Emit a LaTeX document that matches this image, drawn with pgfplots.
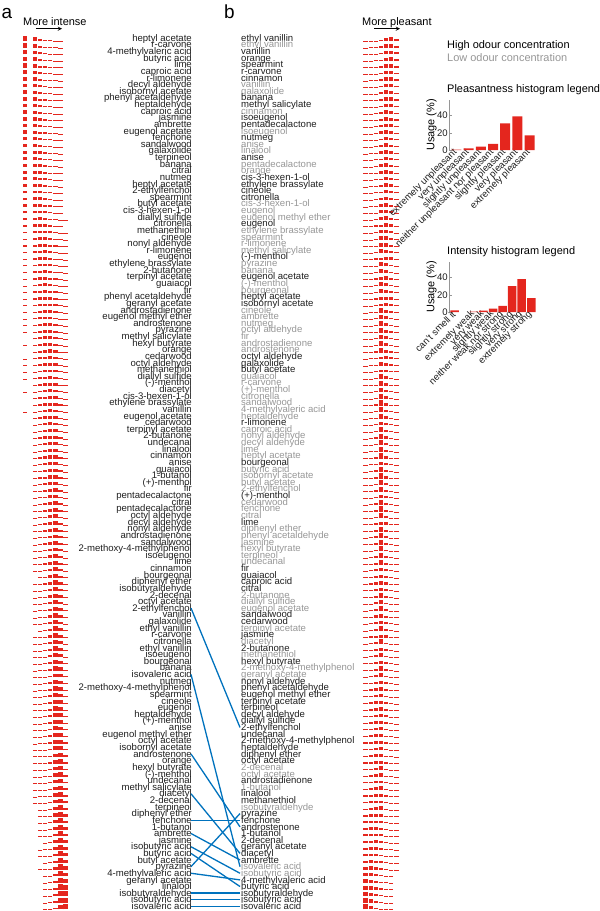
\documentclass[border=0pt]{standalone}
\usepackage{pgfplots}
\pgfplotsset{compat=1.18}
\usepackage{pgfplotstable}
\usepackage{fontspec}
\setmainfont{Liberation Sans}
\definecolor{barred}{RGB}{228,38,30}
\definecolor{lowc}{RGB}{150,150,150}
\definecolor{hic}{RGB}{30,30,30}
\definecolor{linkblue}{RGB}{0,114,189}
\newcommand\lo[1]{\textcolor{lowc}{#1}}
\newcommand\labfont{\fontsize{9.6}{9.6}\selectfont}

% intensity usage (%): can't smell it, extremely weak ... extremely strong
\pgfplotstableread{
c0 c1 c2 c3 c4 c5 c6 c7
40 30 14 8 5 2 1 0
38 30 16 8 5 2 1 0
36 28 15 10 6 3 2 0
36 30 16 9 5 3 1 0
35 30 17 9 5 3 1 0
35 29 16 10 6 3 1 0
34 30 17 10 5 3 1 0
33 28 17 11 6 3 2 0
32 29 18 11 6 3 1 0
31 28 18 11 7 3 2 0
31 27 18 12 7 3 2 0
30 28 19 12 7 3 1 0
30 27 19 12 7 4 1 0
29 27 19 12 8 4 1 0
29 26 19 13 8 4 1 0
28 26 20 13 8 4 1 0
27 27 20 13 8 4 1 0
27 25 20 14 9 4 1 0
26 25 21 14 9 4 1 0
25 25 21 14 9 5 1 0
24 24 22 15 9 5 1 0
24 23 22 15 10 5 1 0
23 24 21 16 10 5 1 0
22 23 22 16 10 5 2 0
21 22 22 17 11 5 2 0
20 22 22 17 11 6 2 0
19 21 22 18 12 6 2 0
18 20 22 18 12 7 2 1
17 20 22 19 13 7 2 0
12 18 20 18 15 10 5 2
10 16 22 21 16 10 4 1
10 15 22 22 16 10 4 1
8 14 22 24 17 10 4 1
7 15 22 24 17 10 4 1
9 14 20 22 18 12 4 1
8 13 20 22 19 12 5 1
6 14 21 24 18 12 4 1
5 13 21 24 19 12 5 1
5 12 20 24 20 13 5 1
8 10 18 20 20 15 7 2
6 10 18 22 22 15 6 1
7 10 18 22 21 15 6 1
5 10 17 23 22 16 6 1
6 9 16 22 22 17 7 1
4 8 16 22 24 18 7 1
0 8 16 24 25 19 7 1
5 8 15 22 24 18 7 1
0 8 16 23 26 19 7 1
4 7 15 22 25 19 7 1
3 7 15 22 25 20 7 1
5 7 12 18 22 20 12 4
4 6 14 20 24 21 9 2
0 6 14 21 26 22 9 2
4 6 13 20 25 22 9 1
0 5 13 20 27 23 10 2
0 6 13 20 26 23 10 2
4 5 12 20 26 23 9 1
0 5 12 20 27 24 10 2
0 5 12 19 27 25 10 2
0 5 11 19 27 25 11 2
0 5 11 19 26 25 12 2
0 4 11 19 27 26 11 2
0 4 10 18 28 27 11 2
0 4 10 18 27 28 11 2
0 4 10 17 26 29 12 2
0 4 9 17 27 28 13 2
0 3 10 16 27 29 13 2
0 3 9 17 26 30 13 2
0 3 9 16 27 30 13 2
0 3 9 16 26 31 13 2
0 3 8 15 26 31 15 2
0 3 8 15 26 32 14 2
0 3 8 15 25 32 15 2
0 3 7 15 25 33 15 2
0 3 7 14 25 33 16 2
0 4 7 12 21 28 20 8
0 2 7 14 24 34 16 3
0 2 7 14 24 33 17 3
0 2 6 13 24 34 18 3
0 2 6 13 23 35 18 3
0 2 6 12 23 35 19 3
0 0 5 12 23 36 20 4
0 2 5 11 22 36 20 4
0 2 5 10 20 35 22 6
0 2 5 11 21 36 21 4
0 1 5 10 21 36 22 5
0 3 5 9 18 33 24 8
0 1 4 10 20 37 23 5
0 1 4 9 20 37 24 5
0 0 3 8 19 38 26 6
0 1 4 9 19 37 24 6
0 1 4 8 19 37 25 6
0 1 3 8 19 37 26 6
0 1 3 8 18 37 27 6
0 1 3 8 18 37 27 6
0 1 3 7 18 37 28 6
0 3 4 7 15 30 28 13
0 1 3 7 17 37 29 6
0 1 3 7 16 37 29 7
0 1 2 7 16 37 30 7
0 1 2 6 16 37 31 7
0 1 2 6 15 37 31 8
0 1 2 6 15 36 32 8
0 1 2 6 15 36 32 8
0 1 2 5 14 36 33 9
0 1 2 5 14 35 34 9
0 1 2 5 13 35 34 10
0 1 2 5 13 34 35 10
0 4 4 6 12 24 30 20
0 1 2 4 11 32 36 14
0 1 2 4 11 31 37 14
0 1 2 4 11 31 37 14
0 1 2 4 10 30 38 15
0 1 2 4 10 30 38 15
0 1 2 4 9 29 39 16
0 1 2 4 9 28 40 16
0 0 1 3 8 28 41 19
0 0 1 3 8 27 42 19
0 0 1 3 7 26 43 20
0 0 1 2 7 25 43 22
0 0 1 3 7 24 43 22
0 0 0 2 6 24 44 24
0 0 1 2 6 23 44 24
0 0 1 2 5 22 45 25
0 0 0 2 5 21 45 27
0 0 1 2 5 20 45 27
0 0 0 1 4 19 45 31
0 0 0 1 4 18 45 32
0 0 0 1 4 16 44 35
0 0 0 1 3 14 42 40
0 0 0 1 3 12 40 44
0 0 0 1 2 10 38 49
}\intensity

% pleasantness usage (%): extremely unpleasant ... extremely pleasant
\pgfplotstableread{
p1 p2 p3 p4 p5 p6 p7
1 2 4 9 28 36 20
1 2 4 12 32 33 16
1 2 5 11 30 34 17
1 2 5 12 31 33 16
2 3 6 11 30 32 16
1 3 6 12 31 32 15
2 3 6 12 31 31 15
1 2 4 17 34 29 13
1 2 5 18 34 28 12
3 4 7 11 30 30 15
3 4 7 12 30 29 15
1 2 5 20 35 26 11
2 4 8 14 32 28 12
2 3 7 17 33 27 11
1 2 5 22 35 25 10
2 4 8 15 32 27 12
1 2 6 24 34 24 9
1 2 6 25 34 23 9
3 4 9 15 31 26 12
1 2 6 27 34 22 8
1 2 6 27 35 21 8
3 5 10 15 31 25 11
2 4 9 18 32 24 11
3 5 10 16 30 25 11
3 5 10 17 31 24 10
1 3 7 30 33 19 7
1 3 7 30 33 19 7
1 3 7 31 33 18 7
4 5 11 16 30 24 10
1 3 7 33 32 18 6
1 2 7 36 32 17 5
1 3 7 35 32 17 5
1 3 8 34 31 17 6
4 6 12 18 29 22 9
1 3 8 38 31 15 4
1 3 8 40 30 14 4
3 5 11 22 30 20 9
1 3 8 40 30 14 4
1 3 8 40 30 14 4
4 6 13 20 28 20 9
4 6 13 21 28 20 8
1 3 9 42 29 13 3
1 3 9 43 28 13 3
1 3 9 43 29 12 3
2 4 10 42 27 12 3
1 3 10 44 28 11 3
2 4 10 43 27 11 3
2 4 10 44 27 10 3
4 7 14 24 27 17 7
2 5 12 38 26 13 4
6 8 14 20 25 18 9
2 4 11 46 25 10 2
2 4 11 46 25 10 2
2 5 12 45 24 10 2
2 4 11 47 25 9 2
2 4 11 48 24 9 2
2 5 12 48 23 8 2
2 5 12 48 23 8 2
4 7 15 30 26 13 5
2 5 13 49 22 7 2
2 5 13 49 21 8 2
2 5 13 49 21 8 2
2 5 13 50 21 7 2
2 5 13 50 21 7 2
5 8 16 28 25 13 5
2 5 14 50 20 7 2
2 6 14 50 20 6 2
2 6 14 50 20 6 2
3 6 14 49 20 6 2
5 8 17 30 24 12 4
3 6 15 49 20 6 1
3 6 15 50 19 6 1
3 6 15 50 19 6 1
6 9 17 28 23 12 5
4 8 18 44 18 6 2
3 7 16 49 18 6 1
3 7 17 48 18 6 1
3 7 17 48 18 6 1
3 7 17 49 17 6 1
4 8 17 45 18 6 2
6 9 19 30 22 10 4
6 10 19 30 21 10 4
7 11 20 30 20 9 3
7 11 20 30 20 9 3
4 8 19 46 16 5 2
4 8 19 46 16 5 2
4 8 19 47 16 5 1
7 11 21 31 19 8 3
7 12 21 31 19 8 2
4 9 20 46 15 5 1
9 12 19 26 20 10 4
5 9 20 45 15 5 1
8 12 22 30 18 8 2
5 10 21 44 14 5 1
8 12 22 30 18 8 2
5 10 21 45 14 4 1
5 10 21 45 14 4 1
8 13 23 30 17 7 2
8 13 23 30 17 7 2
9 13 23 30 16 7 2
9 14 23 29 16 7 2
9 14 24 29 16 6 2
9 14 24 29 16 6 2
10 15 24 28 15 6 2
10 15 24 28 15 6 2
10 15 25 28 14 6 2
11 16 25 27 14 5 2
11 16 25 27 14 5 2
12 17 25 26 13 5 2
12 17 25 26 13 5 2
8 14 24 38 11 4 1
8 14 24 38 11 4 1
14 18 25 25 12 4 2
9 15 26 35 11 3 1
15 18 25 24 12 4 2
17 20 24 22 11 4 2
10 17 27 33 9 3 1
17 21 25 22 10 3 2
18 21 25 21 10 3 2
19 22 25 20 9 3 2
19 22 25 20 9 3 2
20 23 25 19 8 3 2
20 23 25 19 8 3 2
22 25 24 17 8 3 1
22 24 23 17 9 3 2
28 30 22 14 4 1 1
32 30 21 12 4 1 0
33 30 20 12 4 1 0
36 30 19 11 3 1 0
38 32 17 9 3 1 0
42 32 16 7 2 1 0
46 30 14 7 2 1 0
}\pleasant

% rows of panel a joined to rows of panel b
\pgfplotstableread{
a b
87 105
97 126
109 120
115 124
119 119
121 125
123 127
124 129
126 118
127 128
130 130
131 131
132 132
}\links

\pgfplotsset{
  minibar/.style={barred, line width=4.3bp, line cap=butt, forget plot},
  rowaxis/.style={scale only axis, anchor=north west, height=875bp,
    ymin=0.5, ymax=132.5, y dir=reverse, clip=false,
    axis line style={draw=none}, tick style={draw=none}, xtick=\empty,
    ytick={1,...,132}},
  legaxis/.style={scale only axis, anchor=north west, width=88bp, height=50bp,
    ymin=0, ymax=58, axis x line*=bottom, axis y line*=left,
    x axis line style={draw=none}, y axis line style={-,lowc},
    xtick style={draw=none}, ytick style={lowc}, major tick length=3bp,
    ytick={0,20,40}, ylabel={Usage (\%)},
    ylabel style={font=\fontsize{11}{11}\selectfont, yshift=-4bp},
    yticklabel style={font=\labfont, text=hic, inner sep=1pt},
    xticklabel style={rotate=45, anchor=east, font=\labfont, text=hic, inner sep=1pt},
    /pgf/number format/assume math mode=true},
}

\begin{document}
\begin{tikzpicture}
\path[use as bounding box] (0bp,0bp) rectangle (600bp,-911bp);

% panel a
\begin{axis}[rowaxis, at={(22.5bp,-34.7bp)}, width=45.5bp, xmin=-0.5, xmax=8.5,
  yticklabel style={font=\labfont, text=hic, anchor=base east, inner xsep=0pt, xshift=169.5bp, yshift=-3.2bp},
  yticklabels={heptyl acetate, r-carvone, 4-methylvaleric acid, butyric acid, lime, caproic acid, r-limonene, decyl aldehyde, isobornyl acetate, phenyl acetaldehyde,
  heptaldehyde, caproic acid, jasmine, ambrette, eugenol acetate, fenchone, sandalwood, galaxolide, terpineol, banana,
  citral, nutmeg, heptyl acetate, 2-ethylfenchol, spearmint, butyl acetate, cis-3-hexen-1-ol, diallyl sulfide, citronella, methanethiol,
  cineole, nonyl aldehyde, r-limonene, eugenol, ethylene brassylate, 2-butanone, terpinyl acetate, guaiacol, fir, phenyl acetaldehyde,
  geranyl acetate, androstadienone, eugenol methyl ether, androstenone, pyrazine, methyl salicylate, hexyl butyrate, orange, cedarwood, octyl aldehyde,
  methanethiol, diallyl sulfide, (-)-menthol, diacetyl, cis-3-hexen-1-ol, ethylene brassylate, vanillin, eugenol acetate, cedarwood, terpinyl acetate,
  2-butanone, undecanal, linalool, cinnamon, anise, guaiacol, 1-butanol, (+)-menthol, fir, pentadecalactone,
  citral, pentadecalactone, octyl aldehyde, decyl aldehyde, nonyl aldehyde, androstadienone, sandalwood, 2-methoxy-4-methylphenol, isoeugenol, lime,
  cinnamon, bourgeonal, diphenyl ether, isobutyraldehyde, 2-decenal, octyl acetate, 2-ethylfenchol, vanillin, galaxolide, ethyl vanillin,
  r-carvone, citronella, ethyl vanillin, isoeugenol, bourgeonal, banana, isovaleric acid, nutmeg, 2-methoxy-4-methylphenol, spearmint,
  cineole, eugenol, heptaldehyde, (+)-menthol, anise, eugenol methyl ether, octyl acetate, isobornyl acetate, androstenone, orange,
  hexyl butyrate, (-)-menthol, undecanal, methyl salicylate, diacetyl, 2-decenal, terpineol, diphenyl ether, fenchone, 1-butanol,
  ambrette, jasmine, isobutyric acid, butyric acid, butyl acetate, pyrazine, 4-methylvaleric acid, geranyl acetate, linalool, isobutyraldehyde,
  isobutyric acid, isovaleric acid}]
\addplot[minibar, quiver={u=0, v=-\thisrow{c0}/56}] table[x expr=0, y expr=\coordindex+1.45] {\intensity};
\addplot[minibar, quiver={u=0, v=-\thisrow{c1}/56}] table[x expr=2, y expr=\coordindex+1.45] {\intensity};
\addplot[minibar, quiver={u=0, v=-\thisrow{c2}/56}] table[x expr=3, y expr=\coordindex+1.45] {\intensity};
\addplot[minibar, quiver={u=0, v=-\thisrow{c3}/56}] table[x expr=4, y expr=\coordindex+1.45] {\intensity};
\addplot[minibar, quiver={u=0, v=-\thisrow{c4}/56}] table[x expr=5, y expr=\coordindex+1.45] {\intensity};
\addplot[minibar, quiver={u=0, v=-\thisrow{c5}/56}] table[x expr=6, y expr=\coordindex+1.45] {\intensity};
\addplot[minibar, quiver={u=0, v=-\thisrow{c6}/56}] table[x expr=7, y expr=\coordindex+1.45] {\intensity};
\addplot[minibar, quiver={u=0, v=-\thisrow{c7}/56}] table[x expr=8, y expr=\coordindex+1.45] {\intensity};
\end{axis}

% panel b
\begin{axis}[rowaxis, at={(363bp,-34.7bp)}, width=36bp, xmin=-0.5, xmax=6.5,
  yticklabel style={font=\labfont, text=hic, anchor=base west, inner xsep=0pt, xshift=-122bp, yshift=-3.2bp},
  yticklabels={ethyl vanillin, \lo{ethyl vanillin}, vanillin, orange, spearmint, r-carvone, cinnamon, \lo{vanillin}, \lo{galaxolide}, banana,
  methyl salicylate, \lo{cinnamon}, isoeugenol, pentadecalactone, \lo{isoeugenol}, nutmeg, \lo{anise}, \lo{linalool}, anise, \lo{pentadecalactone},
  \lo{orange}, cis-3-hexen-1-ol, ethylene brassylate, cineole, citronella, \lo{cis-3-hexen-1-ol}, \lo{eugenol}, \lo{eugenol methyl ether}, eugenol, \lo{ethylene brassylate},
  \lo{spearmint}, \lo{r-limonene}, \lo{methyl salicylate}, (-)-menthol, \lo{pyrazine}, \lo{banana}, eugenol acetate, \lo{(-)-menthol}, \lo{bourgeonal}, heptyl acetate,
  isobornyl acetate, \lo{cineole}, \lo{ambrette}, \lo{nutmeg}, \lo{octyl aldehyde}, \lo{fir}, \lo{androstadienone}, \lo{androstenone}, octyl aldehyde, galaxolide,
  butyl acetate, \lo{guaiacol}, \lo{r-carvone}, \lo{(+)-menthol}, \lo{citronella}, \lo{sandalwood}, \lo{4-methylvaleric acid}, \lo{heptaldehyde}, r-limonene, \lo{caproic acid},
  \lo{nonyl aldehyde}, \lo{decyl aldehyde}, \lo{lime}, \lo{heptyl acetate}, bourgeonal, \lo{butyric acid}, \lo{isobornyl acetate}, \lo{butyl acetate}, \lo{2-ethylfenchol}, (+)-menthol,
  \lo{cedarwood}, \lo{fenchone}, \lo{citral}, lime, \lo{diphenyl ether}, \lo{phenyl acetaldehyde}, \lo{jasmine}, \lo{hexyl butyrate}, \lo{terpineol}, \lo{undecanal},
  fir, guaiacol, caproic acid, citral, \lo{2-butanone}, \lo{diallyl sulfide}, \lo{eugenol acetate}, sandalwood, cedarwood, \lo{terpinyl acetate},
  jasmine, \lo{diacetyl}, 2-butanone, \lo{methanethiol}, hexyl butyrate, \lo{2-methoxy-4-methylphenol}, \lo{geranyl acetate}, nonyl aldehyde, phenyl acetaldehyde, eugenol methyl ether,
  terpinyl acetate, terpineol, decyl aldehyde, diallyl sulfide, 2-ethylfenchol, undecanal, 2-methoxy-4-methylphenol, heptaldehyde, diphenyl ether, octyl acetate,
  \lo{2-decenal}, \lo{octyl acetate}, androstadienone, \lo{1-butanol}, linalool, methanethiol, \lo{isobutyraldehyde}, pyrazine, fenchone, androstenone,
  1-butanol, 2-decenal, geranyl acetate, diacetyl, ambrette, \lo{isovaleric acid}, \lo{isobutyric acid}, 4-methylvaleric acid, butyric acid, isobutyraldehyde,
  isobutyric acid, isovaleric acid}]
\addplot[minibar, quiver={u=0, v=-\thisrow{p1}/62}] table[x expr=0, y expr=\coordindex+1.45] {\pleasant};
\addplot[minibar, quiver={u=0, v=-\thisrow{p2}/62}] table[x expr=1, y expr=\coordindex+1.45] {\pleasant};
\addplot[minibar, quiver={u=0, v=-\thisrow{p3}/62}] table[x expr=2, y expr=\coordindex+1.45] {\pleasant};
\addplot[minibar, quiver={u=0, v=-\thisrow{p4}/62}] table[x expr=3, y expr=\coordindex+1.45] {\pleasant};
\addplot[minibar, quiver={u=0, v=-\thisrow{p5}/62}] table[x expr=4, y expr=\coordindex+1.45] {\pleasant};
\addplot[minibar, quiver={u=0, v=-\thisrow{p6}/62}] table[x expr=5, y expr=\coordindex+1.45] {\pleasant};
\addplot[minibar, quiver={u=0, v=-\thisrow{p7}/62}] table[x expr=6, y expr=\coordindex+1.45] {\pleasant};
\end{axis}

% links between the two rankings
\begin{axis}[scale only axis, anchor=north west, at={(191bp,-34.7bp)}, width=49bp, height=875bp,
  xmin=0, xmax=1, ymin=0.5, ymax=132.5, y dir=reverse, hide axis, clip=false]
\addplot[linkblue, line width=1.3bp, quiver={u=1, v=\thisrow{b}-\thisrow{a}}] table[x expr=0, y=a] {\links};
\end{axis}

% pleasantness legend
\begin{axis}[legaxis, at={(449bp,-100bp)}, xmin=0.4, xmax=7.6, xtick={1,...,7},
  xticklabels={extremely unpleasant, very unpleasant, slightly unpleasant, neither unpleasant nor pleasant, slightly pleasant, very pleasant, extremely pleasant}]
\addplot[ybar, bar width=10bp, fill=barred, draw=none] coordinates {(1,0.5) (2,2) (3,4) (4,7) (5,31) (6,39) (7,17)};
\end{axis}

% intensity legend
\begin{axis}[legaxis, at={(449bp,-262bp)}, xmin=0.4, xmax=9.6, xtick={1,3,4,5,6,7,8,9},
  xticklabels={can't smell it, extremely weak, very weak, slightly weak, neither weak nor strong, slightly strong, very strong, extremely strong}]
\addplot[ybar, bar width=8.5bp, fill=barred, draw=none] coordinates {(1,2) (3,0.5) (4,1.5) (5,4) (6,7) (7,30) (8,38) (9,16)};
\end{axis}

% headings and notes
\node[anchor=base west, font=\fontsize{19}{19}\selectfont, inner sep=0] at (1.5bp,-18.5bp) {a};
\node[anchor=base west, font=\fontsize{19}{19}\selectfont, inner sep=0] at (224bp,-18.5bp) {b};
\node[anchor=base west, font=\fontsize{11}{11}\selectfont, inner sep=0] at (23bp,-25bp) {More intense};
\draw[-stealth, line width=0.9bp] (36bp,-28.7bp) -- (62bp,-28.7bp);
\node[anchor=base west, font=\fontsize{11}{11}\selectfont, inner sep=0] at (362bp,-25bp) {More pleasant};
\draw[-stealth, line width=0.9bp] (374bp,-28.7bp) -- (400bp,-28.7bp);
\node[anchor=base west, font=\fontsize{11}{11}\selectfont, inner sep=0] at (447bp,-48bp) {High odour concentration};
\node[anchor=base west, font=\fontsize{11}{11}\selectfont, inner sep=0, text=lowc] at (447bp,-61bp) {Low odour concentration};
\node[anchor=base west, font=\fontsize{11}{11}\selectfont, inner sep=0] at (447bp,-92bp) {Pleasantness histogram legend};
\node[anchor=base west, font=\fontsize{11}{11}\selectfont, inner sep=0] at (447bp,-254bp) {Intensity histogram legend};
\end{tikzpicture}
\end{document}
